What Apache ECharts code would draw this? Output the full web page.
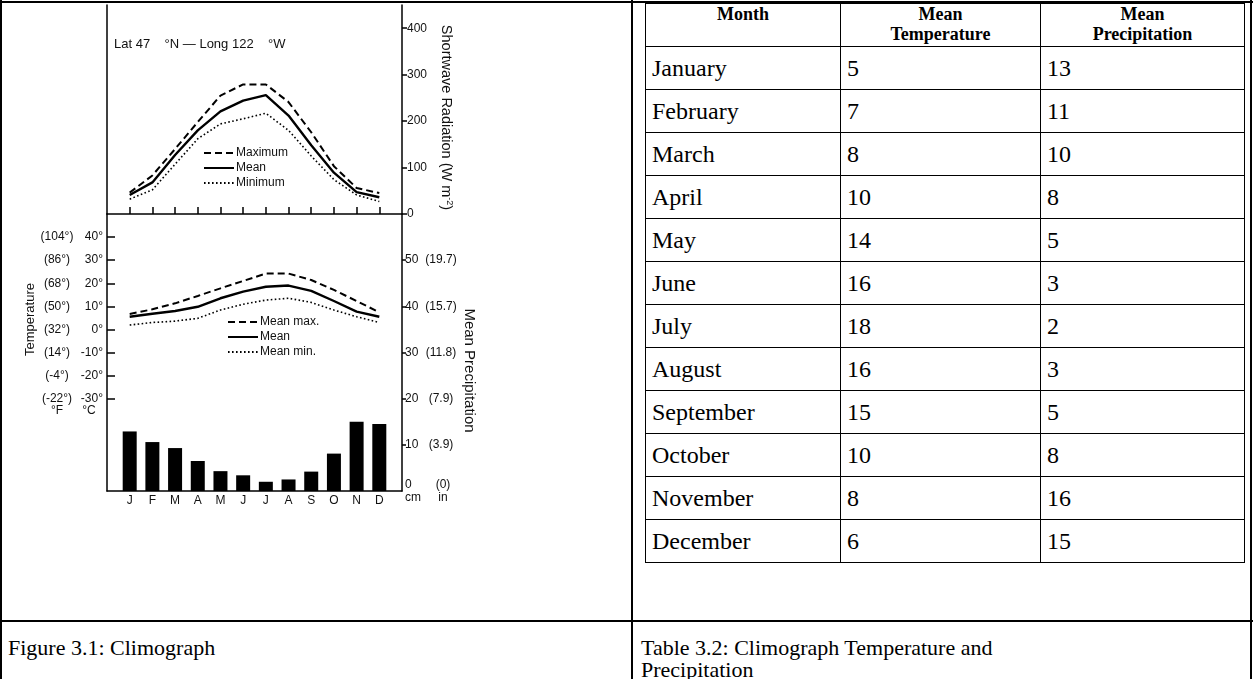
<!DOCTYPE html>
<html><head><meta charset="utf-8">
<script src="https://cdn.jsdelivr.net/npm/echarts@6/dist/echarts.min.js"></script>
<style>
html,body{margin:0;padding:0;background:#fff;}
#page{position:relative;width:1253px;height:679px;overflow:hidden;font-family:"Liberation Serif","Times New Roman",serif;color:#000;}
.ln{position:absolute;background:#000;}
#chart{position:absolute;left:0;top:0;width:632px;height:620px;}
#tbl{position:absolute;left:645px;top:3px;border-collapse:collapse;width:599px;table-layout:fixed;}
#tbl td,#tbl th{border:1.5px solid #000;padding:0 6px;}
#tbl th{font-weight:bold;font-size:18px;line-height:20px;vertical-align:top;height:42px;text-align:center;padding-top:0;}
#tbl td{font-size:24px;height:42px;text-align:left;vertical-align:middle;}
.cap{position:absolute;font-size:22px;line-height:22px;}
</style></head>
<body><div id="page">
<div id="chart"></div>
<div class="ln" style="left:0;top:1px;width:1253px;height:2px"></div>
<div class="ln" style="left:0;top:0;width:2px;height:679px"></div>
<div class="ln" style="left:1250px;top:0;width:2px;height:679px"></div>
<div class="ln" style="left:631px;top:0;width:2px;height:679px"></div>
<div class="ln" style="left:0;top:620px;width:1253px;height:2px"></div>
<table id="tbl"><colgroup><col style="width:195px"><col style="width:200px"><col style="width:204px"></colgroup><thead><tr id="hdr"></tr></thead><tbody id="tbody"></tbody></table>
<div class="cap" style="left:8px;top:637px">Figure 3.1: Climograph</div>
<div class="cap" style="left:641px;top:637px">Table 3.2: Climograph Temperature and<br>Precipitation</div>
</div>
<script>
// ---- data ----
const monthLabels = ['J','F','M','A','M','J','J','A','S','O','N','D'];
const radMax  = [46, 83, 140, 198, 255, 279, 279, 241, 176, 103, 56, 45];
const radMean = [41, 68, 127, 180, 221, 244, 256, 212, 148, 89, 47, 36];
const radMin  = [32, 52, 107, 162, 194, 205, 217, 180, 125, 74, 41, 27];
const tempMax  = [6.7, 8.7, 11.3, 14.5, 17.8, 21.0, 24.2, 24.2, 21.4, 17.1, 12.3, 7.4];
const tempMean = [5.5, 6.8, 8.0, 9.8, 13.5, 16.4, 18.5, 19.0, 16.7, 12.3, 7.7, 5.5];
const tempMin  = [1.9, 3.0, 3.6, 4.8, 8.4, 10.9, 12.7, 13.5, 11.7, 8.4, 5.5, 3.0];
const precipBars = [12.9, 10.6, 9.3, 6.5, 4.3, 3.4, 2.0, 2.5, 4.2, 8.1, 15.0, 14.5];
const radTicks = [0, 100, 200, 300, 400];
const tempTicks = [-30, -20, -10, 0, 10, 20, 30, 40];
const precipTicks = [0, 10, 20, 30, 40, 50];

const tableHeader = ['Month', 'Mean<br>Temperature', 'Mean<br>Precipitation'];
const tableMonths = ['January','February','March','April','May','June','July','August','September','October','November','December'];
const tableTemp = [5, 7, 8, 10, 14, 16, 18, 16, 15, 10, 8, 6];
const tablePrecip = [13, 11, 10, 8, 5, 3, 2, 3, 5, 8, 16, 15];

// ---- table ----
document.getElementById('hdr').innerHTML = tableHeader.map(h => '<th>' + h + '</th>').join('');
document.getElementById('tbody').innerHTML = tableMonths.map((m, i) =>
  '<tr><td>' + m + '</td><td>' + tableTemp[i] + '</td><td>' + tablePrecip[i] + '</td></tr>').join('');

// ---- chart ----
const monthIdx = monthLabels.map((_, i) => i);
const pairs = arr => arr.map((v, i) => [i, v]);
const FONT = 'Liberation Sans';
const TXT = '#111';
const axLine = { show: true, onZero: false, lineStyle: { color: '#000', width: 1.5 } };
const dashed = { color: '#000', width: 2, type: [7, 4] };
const solid = { color: '#000', width: 2.4, type: 'solid' };
const dotted = { color: '#000', width: 1.6, type: [1.6, 2.4] };
const legendBase = {
  orient: 'vertical', itemWidth: 30, itemHeight: 10, itemGap: 3, padding: 0, selectedMode: false,
  itemStyle: { opacity: 0 },
  textStyle: { fontFamily: FONT, fontSize: 12, color: TXT, padding: [0, 0, 0, -3] }
};

const chart = echarts.init(document.getElementById('chart'), null, { renderer: 'canvas' });
chart.setOption({
  animation: false,
  backgroundColor: 'transparent',
  textStyle: { fontFamily: FONT, color: TXT },
  title: {
    text: 'Lat 47    °N — Long 122    °W',
    left: 109, top: 33,
    textStyle: { fontFamily: FONT, fontSize: 13, fontWeight: 'normal', color: TXT }
  },
  grid: [
    { left: 107, top: 5, width: 295, height: 209, outerBoundsMode: 'none', containLabel: false },
    { left: 107, top: 214, width: 295, height: 277, outerBoundsMode: 'none', containLabel: false }
  ],
  legend: [
    Object.assign({ data: ['Maximum', 'Mean', 'Minimum'], left: 203, top: 147 }, legendBase),
    Object.assign({ data: ['Mean max.', 'Mean', 'Mean min.'], left: 227, top: 316 }, legendBase)
  ],
  xAxis: [
    {
      gridIndex: 0, type: 'value', min: -1, max: 12,
      axisLine: axLine, splitLine: { show: false },
      axisTick: { show: true, inside: true, length: 7, customValues: monthIdx, lineStyle: { color: '#000', width: 1.5 } },
      axisLabel: { show: false }
    },
    {
      gridIndex: 1, type: 'value', min: -1, max: 12,
      axisLine: axLine, splitLine: { show: false },
      axisTick: { show: false },
      axisLabel: {
        show: true, customValues: monthIdx, margin: 4,
        fontFamily: FONT, fontSize: 12, color: TXT,
        formatter: v => monthLabels[v] || ''
      }
    }
  ],
  yAxis: [
    {
      gridIndex: 0, type: 'value', position: 'left', min: 0, max: 450,
      axisLine: axLine, axisTick: { show: false }, axisLabel: { show: false }, splitLine: { show: false }
    },
    {
      gridIndex: 0, type: 'value', position: 'right', min: 0, max: 450,
      axisLine: axLine, splitLine: { show: false },
      axisTick: { show: true, length: 5, customValues: radTicks, lineStyle: { color: '#000', width: 1.5 } },
      axisLabel: { customValues: radTicks, margin: 5, fontFamily: FONT, fontSize: 12, color: TXT },
      name: '{n|Shortwave Radiation (W m}{s|-2}{n|)}',
      nameLocation: 'middle', nameRotate: -90, nameGap: 36,
      nameTextStyle: {
        padding: [0, 0, 0, 16],
        rich: {
          n: { fontFamily: FONT, fontSize: 14.5, color: TXT },
          s: { fontFamily: FONT, fontSize: 9, color: TXT, verticalAlign: 'top', padding: [0, 0, 7, 0] }
        }
      }
    },
    {
      gridIndex: 1, type: 'value', position: 'left', min: -70, max: 50,
      axisLine: axLine, splitLine: { show: false },
      axisTick: { show: true, inside: true, length: 8, customValues: tempTicks, lineStyle: { color: '#000', width: 1.5 } },
      axisLabel: {
        customValues: tempTicks.concat([-35]), margin: 4, fontFamily: FONT, fontSize: 12, color: TXT,
        formatter: v => {
          if (v === -35) return '{u|°F}{v|°C}';
          const f = Math.round(v * 9 / 5 + 32);
          return '{f|(' + f + '°)}{c|' + v + '°}';
        },
        rich: {
          f: { width: 36, align: 'center', fontFamily: FONT, fontSize: 12, color: TXT },
          c: { width: 28, align: 'right', fontFamily: FONT, fontSize: 12, color: TXT },
          u: { width: 36, align: 'center', fontFamily: FONT, fontSize: 12, color: TXT },
          v: { width: 28, align: 'center', fontFamily: FONT, fontSize: 12, color: TXT }
        }
      },
      name: 'Temperature', nameLocation: 'middle', nameGap: 68,
      nameTextStyle: { fontFamily: FONT, fontSize: 13, color: TXT, padding: [0, 0, 0, 66] }
    },
    {
      gridIndex: 1, type: 'value', position: 'right', min: 0, max: 60,
      axisLine: axLine, splitLine: { show: false },
      axisTick: { show: true, length: 4, customValues: precipTicks.slice(1), lineStyle: { color: '#000', width: 1.5 } },
      axisLabel: {
        customValues: precipTicks, margin: 3, fontFamily: FONT, fontSize: 12, color: TXT, align: 'left',
        formatter: v => {
          if (v === 0) return '{a0|0}{b0|(0)}\n{a0|cm}{b0|in}';
          return '{a|' + v + '}{b|(' + (v / 2.54).toFixed(1) + ')}';
        },
        rich: {
          a: { width: 18, align: 'left', fontFamily: FONT, fontSize: 12, color: TXT },
          b: { width: 36, align: 'center', fontFamily: FONT, fontSize: 12, color: TXT },
          a0: { width: 30, align: 'left', fontFamily: FONT, fontSize: 12, color: TXT, lineHeight: 13 },
          b0: { width: 16, align: 'center', fontFamily: FONT, fontSize: 12, color: TXT, lineHeight: 13 }
        }
      },
      name: 'Mean Precipitation', nameLocation: 'middle', nameRotate: -90, nameGap: 60,
      nameTextStyle: { fontFamily: FONT, fontSize: 15, color: TXT, padding: [0, 0, 0, 36] }
    }
  ],
  series: [
    { name: 'Maximum', type: 'line', xAxisIndex: 0, yAxisIndex: 1, data: pairs(radMax), symbol: 'none', lineStyle: dashed, itemStyle: { color: '#000' } },
    { name: 'Mean', type: 'line', xAxisIndex: 0, yAxisIndex: 1, data: pairs(radMean), symbol: 'none', lineStyle: solid, itemStyle: { color: '#000' } },
    { name: 'Minimum', type: 'line', xAxisIndex: 0, yAxisIndex: 1, data: pairs(radMin), symbol: 'none', lineStyle: dotted, itemStyle: { color: '#000' } },
    { name: 'Mean max.', type: 'line', xAxisIndex: 1, yAxisIndex: 2, data: pairs(tempMax), symbol: 'none', lineStyle: dashed, itemStyle: { color: '#000' } },
    { name: 'Mean', type: 'line', xAxisIndex: 1, yAxisIndex: 2, data: pairs(tempMean), symbol: 'none', lineStyle: solid, itemStyle: { color: '#000' } },
    { name: 'Mean min.', type: 'line', xAxisIndex: 1, yAxisIndex: 2, data: pairs(tempMin), symbol: 'none', lineStyle: dotted, itemStyle: { color: '#000' } },
    { name: 'Precipitation', type: 'bar', xAxisIndex: 1, yAxisIndex: 3, data: pairs(precipBars), barWidth: 14, itemStyle: { color: '#000' } }
  ]
});
</script>
</body></html>
